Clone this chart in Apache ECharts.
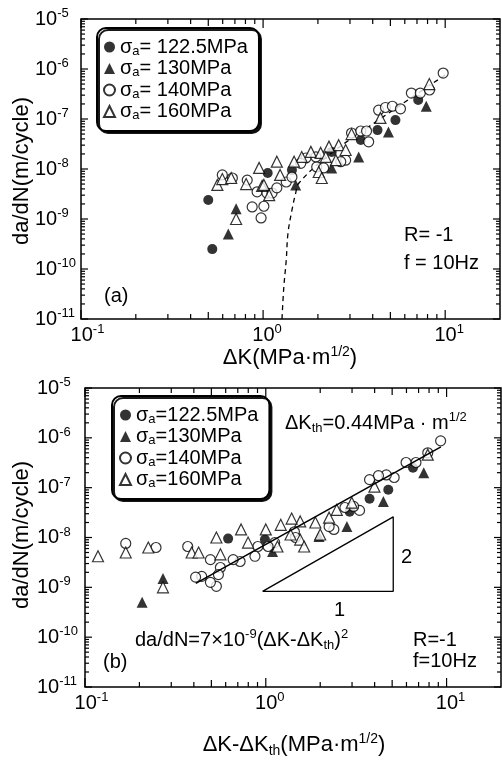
<!DOCTYPE html>
<html><head><meta charset="utf-8">
<script src="https://cdn.jsdelivr.net/npm/echarts@6/dist/echarts.min.js"></script>
<style>html,body{margin:0;padding:0;background:#fff}#c{width:502px;height:760px}</style>
</head><body><div id="c"></div><script>
// ---------- Panel (a): da/dN vs ΔK ----------
const a_s1225 = [[7.11,2.4e-7],[5.33,9.5e-8],[4.25,6.0e-8],[3.44,3.8e-8],[2.38,2.2e-8],[1.06,8.3e-9],[1.44,9.5e-9],[0.50,2.4e-9],[0.526,2.5e-10]];
const a_s130 = [[7.87,1.8e-7],[4.88,5.5e-8],[3.35,1.74e-8],[2.38,1.05e-8],[1.51,4.8e-9],[0.711,1.6e-9],[0.644,5.0e-10]];
const a_s140 = [[9.75,8.3e-7],[6.52,3.3e-7],[7.30,3.3e-7],[8.2,3.8e-7],[4.31,1.5e-7],[4.70,1.7e-7],[5.13,1.8e-7],[5.68,1.6e-7],[3.06,5.25e-8],[3.44,5.75e-8],[3.70,5.75e-8],[3.80,3.5e-8],[2.84,1.5e-8],[2.67,1.4e-8],[1.97,1.1e-8],[2.15,1.05e-8],[1.72,1.66e-8],[1.61,1.3e-8],[1.95,1.74e-8],[0.597,7.6e-9],[0.678,6.6e-9],[0.818,6.0e-9],[0.927,3.5e-9],[1.05,3.3e-9],[1.12,3.3e-9],[1.19,4.2e-9],[1.34,5.5e-9],[1.44,6.9e-9],[0.871,1.74e-9],[1.01,1.8e-9],[0.975,1.05e-9]];
const a_s160 = [[8.18,5.0e-7],[4.41,1.05e-7],[3.06,5.0e-8],[2.60,3.0e-8],[2.30,2.8e-8],[2.84,2.4e-8],[1.83,2.2e-8],[2.07,2.1e-8],[2.21,1.74e-8],[1.63,1.74e-8],[1.48,1.4e-8],[1.19,1.4e-8],[0.951,1.05e-8],[1.24,7.6e-9],[0.561,4.8e-9],[0.597,6.3e-9],[0.668,6.6e-9],[0.988,4.6e-9],[1.08,3.0e-9],[2.51,1.5e-8],[2.02,8.7e-9],[2.10,6.6e-9],[0.711,1.0e-9],[0.807,5.0e-9],[1.01,4.8e-9]];
const a_dashed = [[1.27,1.0e-11],[1.30,4.4e-11],[1.34,1.5e-10],[1.37,5.2e-10],[1.44,1.5e-9],[1.51,3.3e-9],[1.57,5.2e-9],[2.3,1.9e-8],[4.3,9.5e-8],[10,7.6e-7]];

// ---------- Panel (b): da/dN vs ΔK-ΔKth ----------
const b_s1225 = [[6.52,2.5e-7],[4.76,9.1e-8],[3.75,6.0e-8],[2.91,3.3e-8],[0.989,9.1e-9],[0.619,9.5e-9]];
const b_s130 = [[7.48,2.0e-7],[4.47,5.25e-8],[2.81,1.66e-8],[1.97,1.05e-8],[1.09,5.25e-9],[0.270,1.5e-9],[0.207,5.0e-10]];
const b_s140 = [[9.27,8.7e-7],[7.87,5.0e-7],[6.77,3.2e-7],[5.97,3.2e-7],[5.13,1.6e-7],[4.64,1.8e-7],[4.20,1.74e-7],[3.75,1.45e-7],[3.30,3.5e-8],[3.06,4.2e-8],[2.74,4.0e-8],[2.38,1.45e-8],[2.24,1.66e-8],[1.44,1.3e-8],[1.46,1.0e-8],[1.12,7.9e-9],[1.03,6.6e-9],[0.904,6.6e-9],[0.871,4.2e-9],[0.721,3.3e-9],[0.660,3.6e-9],[0.561,2.5e-9],[0.494,3.6e-9],[0.442,1.66e-9],[0.409,1.6e-9],[0.547,1.8e-9],[0.533,1.05e-9],[0.494,1.26e-9],[0.370,6.6e-9],[0.247,6.3e-9],[0.168,7.6e-9]];
const b_s160 = [[7.87,4.6e-7],[3.99,1.05e-7],[2.99,5.0e-8],[2.47,3.6e-8],[2.24,2.5e-8],[1.88,2.0e-8],[1.55,2.1e-8],[1.39,2.4e-8],[1.21,1.8e-8],[1.0,1.45e-8],[0.798,7.9e-9],[0.730,1.45e-8],[0.533,1.0e-8],[0.561,4.6e-9],[0.389,5.0e-9],[1.55,9.1e-9],[1.63,6.6e-9],[2.0,1.15e-8],[1.37,1.15e-8],[1.16,6.6e-9],[0.270,1.0e-9],[0.118,4.2e-9],[0.168,5.0e-9],[0.224,6.3e-9],[0.425,5.0e-9]];
const b_fit = [[0.41,1.2e-9],[9.3,6.6e-7]];
const b_slope = [[0.96,8.3e-10],[5.07,8.3e-10],[5.07,2.6e-8],[0.96,8.3e-10]];

// ---------- axes ----------
const xRange = [0.1, 20];
const yRange = [1e-11, 1e-5];
const xTicksMajor = [0.1, 1, 10];
const xTicksMinor = [0.2,0.3,0.4,0.5,0.6,0.7,0.8,0.9,2,3,4,5,6,7,8,9];
const yDecades = [-11,-10,-9,-8,-7,-6,-5];
const yTicksMajor = yDecades.map(d => Math.pow(10, d));
const yTicksMinor = [];
yDecades.slice(0, -1).forEach(d => { for (let k = 2; k <= 9; k++) yTicksMinor.push(k * Math.pow(10, d)); });

const legendTextA = {a1:'= 122.5MPa', a2:'= 130MPa', a3:'= 140MPa', a4:'= 160MPa'};
const legendTextB = {b1:'=122.5MPa', b2:'=130MPa', b3:'=140MPa', b4:'=160MPa'};

const F = 'Liberation Sans, Arial, sans-serif';
const chart = echarts.init(document.getElementById('c'), null, {renderer:'canvas'});

const richBase = {
  t:{fontSize:20, fontFamily:F, color:'#000', lineHeight:24},
  T:{fontSize:22, fontFamily:F, color:'#000', lineHeight:26},
  sup:{fontSize:13, fontFamily:F, color:'#000', lineHeight:13, verticalAlign:'top'},
  sub:{fontSize:13, fontFamily:F, color:'#000', lineHeight:13, verticalAlign:'bottom'},
  SUP:{fontSize:14, fontFamily:F, color:'#000', lineHeight:14, verticalAlign:'top'},
  SUB:{fontSize:14, fontFamily:F, color:'#000', lineHeight:14, verticalAlign:'bottom'}
};

function expLabel(v, leftPad) {
  const e = Math.log10(v);
  if (Math.abs(e - Math.round(e)) > 1e-6) return '';
  const s = String(Math.round(e));
  return leftPad ? '{p' + s.length + '|}{b|10}{s|' + s + '}' : '{b|10}{s|' + s + '}';
}
const tickRich = {
  b:{fontSize:20, fontFamily:F, color:'#000', lineHeight:24},
  s:{fontSize:13, fontFamily:F, color:'#000', lineHeight:13, verticalAlign:'top'},
  p1:{width:8}, p2:{width:13}, p3:{width:19}
};

function xAxisCfg(gi) {
  return {type:'log', gridIndex:gi, min:xRange[0], max:xRange[1], logBase:10, splitNumber:3,
    axisLine:{show:false}, axisTick:{show:false}, splitLine:{show:false},
    axisLabel:{margin:4, showMaxLabel:false, formatter:v => expLabel(v, true), rich:tickRich}};
}
function yAxisCfg(gi, margin) {
  return {type:'log', gridIndex:gi, min:yRange[0], max:yRange[1], logBase:10, splitNumber:6,
    axisLine:{show:false}, axisTick:{show:false}, splitLine:{show:false},
    axisLabel:{margin:margin, align:'left', formatter:v => expLabel(v, false), rich:tickRich}};
}

function tickRenderer(params, api) {
  const bl = api.coord([xRange[0], yRange[0]]);
  const tr = api.coord([xRange[1], yRange[1]]);
  const L = bl[0], B = bl[1], R = tr[0], T = tr[1];
  const ch = [];
  const add = (x1,y1,x2,y2) => ch.push({type:'line', shape:{x1,y1,x2,y2}, style:{stroke:'#000', lineWidth:1.2}});
  xTicksMajor.forEach(v => { const p = api.coord([v, yRange[0]])[0]; add(p,B,p,B-9); add(p,T,p,T+9); });
  xTicksMinor.forEach(v => { const p = api.coord([v, yRange[0]])[0]; const l = (v===5||v===0.5)?7:5; add(p,B,p,B-l); add(p,T,p,T+l); });
  yTicksMajor.forEach(v => { const p = api.coord([xRange[0], v])[1]; add(L,p,L+7,p); add(R,p,R-7,p); });
  yTicksMinor.forEach(v => { const p = api.coord([xRange[0], v])[1]; add(L,p,L+4,p); add(R,p,R-4,p); });
  return {type:'group', children:ch};
}

const filled = {color:'#000'};
const open = {color:'#fff', borderColor:'#000', borderWidth:1.2};
function sc(name, data, gi, symbol, style, size) {
  return {type:'scatter', name, data, xAxisIndex:gi, yAxisIndex:gi, symbol, symbolSize:size, itemStyle:style, emphasis:{disabled:true}, z:3};
}

function legendCfg(names, map, left, top, padL) {
  return {orient:'vertical', left, top, data:names, itemWidth:11, itemHeight:11, itemGap:1,
    padding:[9,11,9,padL], backgroundColor:'#fff', borderColor:'#000', borderWidth:2, borderRadius:9,
    shadowColor:'rgba(0,0,0,0.9)', shadowOffsetX:2, shadowOffsetY:2, shadowBlur:0,
    selectedMode:false,
    formatter:n => '{g|σ}{sub|a}{t|' + map[n] + '}',
    textStyle:{fontSize:20, fontFamily:F, color:'#000', rich:{
      g:{fontSize:20, fontFamily:F, color:'#000', lineHeight:21},
      sub:{fontSize:13, fontFamily:F, color:'#000', lineHeight:11, verticalAlign:'bottom'},
      t:{fontSize:20, fontFamily:F, color:'#000', lineHeight:21}}}};
}

function txt(x, y, text, opts) {
  return Object.assign({type:'text', x, y, silent:true, style:Object.assign({text, fill:'#000', font:'20px ' + F, align:'left', verticalAlign:'middle', rich:richBase}, opts||{})});
}

const option = {
  animation:false,
  backgroundColor:'#fff',
  grid:[
    {left:81, top:19, width:419, height:300, show:true, borderColor:'#000', borderWidth:1.5, backgroundColor:'transparent'},
    {left:85, top:388, width:416, height:299, show:true, borderColor:'#000', borderWidth:1.5, backgroundColor:'transparent'}
  ],
  xAxis:[xAxisCfg(0), xAxisCfg(1)],
  yAxis:[yAxisCfg(0, 46), yAxisCfg(1, 48)],
  legend:[
    legendCfg(['a1','a2','a3','a4'], legendTextA, 97, 28, 6),
    legendCfg(['b1','b2','b3','b4'], legendTextB, 112, 396, 7)
  ],
  series:[
    {type:'custom', xAxisIndex:0, yAxisIndex:0, data:[[1,1e-8]], renderItem:tickRenderer, silent:true, z:1},
    {type:'custom', xAxisIndex:1, yAxisIndex:1, data:[[1,1e-8]], renderItem:tickRenderer, silent:true, z:1},
    {type:'line', xAxisIndex:0, yAxisIndex:0, data:a_dashed, smooth:0.4, showSymbol:false, silent:true,
      lineStyle:{color:'#000', width:1.3, type:[5,4]}, z:2},
    sc('a1', a_s1225, 0, 'circle', filled, 10),
    sc('a2', a_s130, 0, 'triangle', filled, 11),
    sc('a3', a_s140, 0, 'circle', open, 10),
    sc('a4', a_s160, 0, 'triangle', open, 11),
    {type:'line', xAxisIndex:1, yAxisIndex:1, data:b_fit, showSymbol:false, silent:true, lineStyle:{color:'#000', width:1.6}, z:4},
    {type:'line', xAxisIndex:1, yAxisIndex:1, data:b_slope, showSymbol:false, silent:true, lineStyle:{color:'#000', width:1.3}, z:2},
    sc('b1', b_s1225, 1, 'circle', filled, 10),
    sc('b2', b_s130, 1, 'triangle', filled, 11),
    sc('b3', b_s140, 1, 'circle', open, 10),
    sc('b4', b_s160, 1, 'triangle', open, 11)
  ],
  graphic:[
    txt(22, 171, 'da/dN(m/cycle)', {align:'center', font:'22px ' + F}),
    txt(22, 535, 'da/dN(m/cycle)', {align:'center', font:'22px ' + F}),
    txt(290, 358, '{T|ΔK(MPa·m}{SUP|1/2}{T|)}', {align:'center'}),
    txt(294, 745, '{T|ΔK-ΔK}{SUB|th}{T|(MPa·m}{SUP|1/2}{T|)}', {align:'center'}),
    txt(104, 296, '(a)'),
    txt(404, 235, 'R= -1'),
    txt(404, 263, 'f = 10Hz'),
    txt(103, 662, '(b)'),
    txt(413, 640, 'R=-1'),
    txt(413, 661, 'f=10Hz'),
    txt(285, 423, '{t|ΔK}{sub|th}{t|=0.44MPa · m}{sup|1/2}'),
    txt(135, 640, '{t|da/dN=7×10}{sup|-9}{t|(ΔK-ΔK}{sub|th}{t|)}{sup|2}'),
    txt(401, 557, '2'),
    txt(334, 610, '1')
  ]
};
// rotate the y-axis names
option.graphic[0].rotation = Math.PI / 2;
option.graphic[1].rotation = Math.PI / 2;
chart.setOption(option);
</script></body></html>
